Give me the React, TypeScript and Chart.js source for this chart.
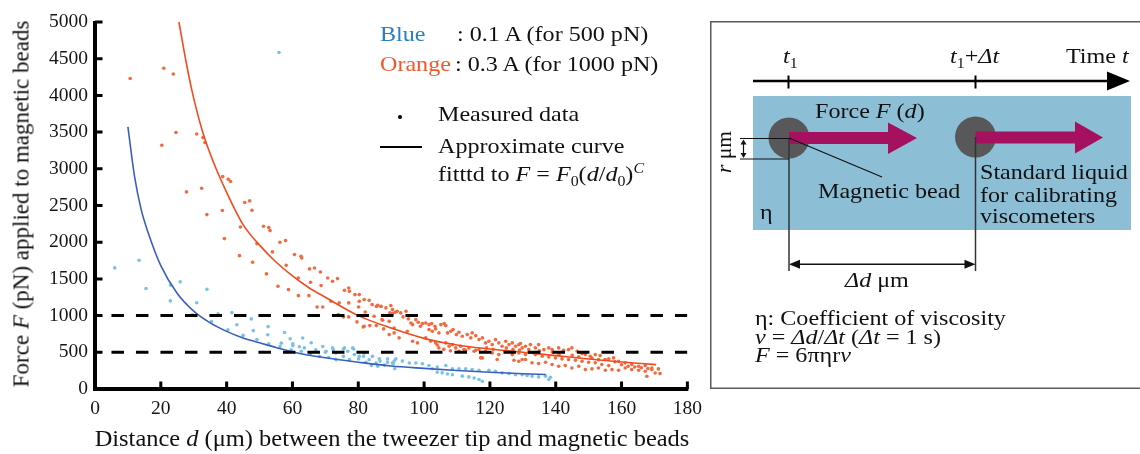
import React, { useEffect, useRef } from "react";
import { Chart, registerables } from "chart.js";

Chart.register(...registerables);

// ---------- data ----------
const xTicks = [0, 20, 40, 60, 80, 100, 120, 140, 160, 180];
const yTicks = [0, 500, 1000, 1500, 2000, 2500, 3000, 3500, 4000, 4500, 5000];
const thresholdLevels = [1000, 500];
const thresholdRange = [5, 180];

const blueCurveD = [10, 12, 14, 16, 20, 25, 30, 35, 40, 45, 50, 55, 60, 70, 80, 90, 100, 110, 120, 130, 137];
const blueCurveF = [3570, 2900, 2450, 2150, 1680, 1300, 1060, 900, 785, 695, 630, 565, 505, 425, 365, 313, 281, 253, 228, 208, 197];

const orangeCurveD = [25.5, 28, 30, 33, 36, 40, 45, 50, 55, 60, 65, 70, 80, 90, 100, 110, 120, 130, 140, 150, 160, 170.5];
const orangeCurveF = [5000, 4380, 3960, 3460, 3090, 2680, 2240, 1960, 1730, 1540, 1380, 1250, 1000, 830, 690, 600, 545, 500, 455, 408, 368, 332];

const blueMeasured: [number, number][] = [
  [6, 1650], [13.4, 1755], [15.5, 1370], [23, 1415], [25.9, 1460], [22.9, 1200], [34, 1360], [30.9, 1175],
  [29.6, 1010], [37.4, 1025], [41.6, 1040], [35.4, 920], [43.1, 875], [47.5, 955], [40.4, 805], [45, 730],
  [48.1, 795], [52.6, 850], [52.5, 740], [49.2, 675], [52.8, 615], [57.6, 770], [56.6, 625], [56.2, 580],
  [55.9, 4585],
  [59.3, 685], [60.1, 590], [62.1, 575], [63.6, 560], [65.7, 630], [67.1, 535], [69.2, 580], [70.2, 515],
  [72.2, 560], [73.2, 490], [75.8, 560], [76.8, 515], [78.3, 560], [78.8, 470], [80.3, 445], [81.8, 490],
  [83.3, 400], [84.3, 445], [85.4, 355], [85.9, 310], [63.1, 695],
  [60.1, 615], [59.6, 535], [62.7, 515], [65.5, 485], [68.2, 445], [70, 500], [71, 430], [72.4, 535],
  [73.2, 400], [75.5, 545], [75.5, 445], [77.3, 400], [78.6, 545], [80.1, 410], [81.6, 445], [82.3, 365],
  [84, 320], [86.4, 410], [86.6, 380], [87.9, 325], [88.9, 410], [88.9, 365], [90.9, 380], [90.6, 345], [91.1, 275],
  [90.4, 355], [91.4, 410], [93.4, 380], [95.5, 355], [97.5, 355], [99.5, 345], [101.5, 320], [104, 300],
  [106.6, 320], [108.6, 275], [110.6, 275], [112.6, 275], [114.6, 265], [116.7, 255],
  [102.5, 275], [104, 230], [105.5, 220], [107.1, 205], [108.6, 195], [111.6, 175], [113.6, 165], [115.2, 150],
  [116.7, 130], [117.7, 105],
  [119.7, 255], [121.7, 240], [123.7, 220], [125.8, 210], [127.8, 195], [129.8, 195], [131.3, 185], [132.8, 175],
  [134.8, 165], [136.9, 175], [137.9, 130], [138.4, 160],
];

const orangeMeasured: [number, number][] = [
  [10.7, 4230], [20.9, 4370], [23.8, 4290], [24.6, 3495], [20.3, 3320], [30.9, 3475], [32.8, 3425], [33.4, 3357],
  [38.8, 2894], [40.5, 2857], [41.2, 2826], [27.8, 2685], [32.4, 2735], [45.5, 2540], [47, 2563], [47.7, 2435],
  [38.7, 2431], [34, 2376], [44.2, 2208], [51.2, 2217], [52.8, 2199], [53.2, 2158], [39.3, 2049], [49.2, 1981],
  [56.2, 1999], [57.9, 2022], [53.9, 1868], [43.9, 1817], [47.9, 1726], [58.1, 1686], [52.1, 1568], [55.6, 1400],
  [58.8, 1354],
  [60.6, 1831], [62.6, 1808], [62.8, 1786], [61.8, 1513], [61.8, 1272], [65.2, 1636], [66.7, 1649], [65.5, 1454],
  [65, 1272], [68.5, 1595], [68.7, 1409], [67.5, 1118], [70.7, 1513], [72.2, 1468], [73.7, 1504], [71.7, 1195],
  [69.2, 1118], [74.2, 1173], [75.8, 1345], [77.1, 1377], [77.3, 1331], [79, 1286], [80.3, 1286], [77.1, 1173],
  [80.1, 1118], [73.9, 1014], [75.5, 982], [77.1, 982], [80.3, 1195], [81.8, 1218], [83.3, 1208], [84.2, 1150],
  [85.9, 1141], [82.1, 1050], [81.8, 854], [83.5, 864], [84.8, 991],
  [85.5, 1123], [86.9, 1123], [88.4, 1105], [89.6, 1037], [90.4, 1027], [91.2, 1045], [91.8, 1059], [79.6, 914],
  [81.5, 846], [85.5, 864], [87.4, 936], [89.4, 922], [87.7, 819], [89.4, 741], [90.9, 764], [90.9, 832],
  [86.9, 1127], [89.9, 1136], [90.4, 1082], [87.2, 946],
  [92.9, 1037], [93.6, 982], [94.5, 1059], [95.2, 955], [96, 900], [96.5, 877], [97.5, 945], [98.2, 909], [98.9, 854],
  [94.9, 786], [92.4, 696], [96.5, 650], [98, 628],
  [99.5, 891], [100.5, 900], [101.5, 877], [102.3, 891], [103.3, 854],
  [101.5, 809], [102.5, 786], [103.5, 819], [104.5, 764],
  [105.1, 877], [106.1, 891], [106.6, 864],
  [100.5, 696], [102, 650], [103.5, 628], [104.5, 560], [104, 600], [106, 540], [108, 520],
  [107.1, 764], [108.1, 786], [108.8, 809], [109.8, 741], [110.6, 773], [111.6, 718], [113.1, 741], [114.2, 696],
  [114.6, 764], [115.7, 727], [116.7, 673], [117.7, 696],
  [106.6, 628], [107.6, 582], [108.6, 605], [109.6, 560], [111.1, 582], [112.1, 537], [113.6, 560], [115.2, 514], [116.7, 537],
  [110.6, 514], [112.6, 527], [115.7, 527], [117.2, 424],
  [118.7, 628], [119.7, 650], [120.7, 605], [121.7, 673], [122.7, 628], [123.7, 582], [124.8, 650], [125.8, 605],
  [126.8, 628], [127.8, 582], [128.8, 605], [129.8, 560], [130.8, 582], [131.8, 537],
  [118.7, 514], [120.7, 492], [122.7, 469], [124.8, 514], [126.8, 469], [128.8, 492], [130.8, 469],
  [119, 560], [121, 540], [125, 560], [127, 540], [129, 530],
  [117.7, 424], [122.2, 401], [127.3, 391], [129.8, 401],
  [129.3, 619], [132.3, 605], [133.8, 560], [134.8, 605], [136.4, 537], [137.9, 560], [138.9, 537], [140.9, 560],
  [142.4, 527], [143.9, 537], [144.9, 560], [146.5, 514], [148, 482], [149, 469], [150.5, 446], [152, 469],
  [153.5, 455], [155, 401], [156.1, 410], [157.6, 424],
  [131.8, 500], [133.8, 469], [135.9, 446], [137.9, 437], [139.9, 424], [141.9, 410], [143.9, 401], [146, 391],
  [148, 378], [150, 364], [152, 356], [154, 333], [156.1, 319],
  [135, 520], [139, 500], [141, 470], [145, 460], [147, 440], [151, 420], [153, 400], [158, 370],
  [160, 330], [162, 310], [164, 300], [166, 290], [168, 280],
  [128.8, 378], [130.8, 401], [132.8, 356], [134.8, 346], [136.9, 364], [138.9, 333], [140.9, 309], [142.9, 319],
  [144.9, 287], [147, 309], [149, 264], [151, 274], [153, 287], [155.1, 255], [157.1, 264], [159.1, 255],
  [161.1, 287], [163.1, 264], [165.2, 255], [167.2, 241], [169.2, 264], [170.2, 219], [171.7, 210], [167.7, 173],
  [159.1, 378], [161.1, 356], [163.1, 333], [165.2, 309], [167.2, 319], [169.2, 287], [171.2, 274],
];

// ---------- styling ----------
const SERIF = "'Liberation Serif','Times New Roman',serif";
const BLUE_DOT = "#78c2e6";
const ORANGE_DOT = "#f26a3e";
const BLUE_LINE = "#3a5fbf";
const ORANGE_LINE = "#f24b1f";
const BLUE_TEXT = "#2a7fc4";
const ORANGE_TEXT = "#ef5a28";

type TProps = { x: number; base: number; size?: number; sx?: number; color?: string; children: React.ReactNode };
function T({ x, base, size = 21.5, sx = 1.12, color = "#111", children }: TProps) {
  return (
    <div
      style={{
        position: "absolute",
        left: x,
        top: base - 0.8375 * size,
        fontSize: size,
        lineHeight: `${size}px`,
        fontFamily: SERIF,
        whiteSpace: "nowrap",
        color,
        transform: `scaleX(${sx})`,
        transformOrigin: "left top",
      }}
    >
      {children}
    </div>
  );
}
const Sub = ({ children }: { children: React.ReactNode }) => (
  <span style={{ fontSize: "0.66em", position: "relative", top: "0.36em", lineHeight: 0, fontStyle: "normal" }}>{children}</span>
);
const Sup = ({ children }: { children: React.ReactNode }) => (
  <span style={{ fontSize: "0.66em", position: "relative", top: "-0.55em", lineHeight: 0 }}>{children}</span>
);
const I = ({ children }: { children: React.ReactNode }) => <i>{children}</i>;

export default function App() {
  const ref = useRef<HTMLCanvasElement | null>(null);

  useEffect(() => {
    if (!ref.current) return;
    const axesAndTicks = {
      id: "axesAndTicks",
      afterDraw(chart: any) {
        const { ctx, chartArea, scales } = chart;
        const xs = scales.x;
        const ys = scales.y;
        const { left, right, top, bottom } = chartArea;
        ctx.save();
        ctx.strokeStyle = "#000";
        // axis lines
        ctx.lineWidth = 4;
        ctx.beginPath();
        ctx.moveTo(left, top - 1);
        ctx.lineTo(left, bottom + 2);
        ctx.moveTo(left - 2, bottom);
        ctx.lineTo(right + 1, bottom);
        ctx.stroke();
        // inward tick marks
        ctx.lineWidth = 3;
        ctx.beginPath();
        for (const t of xs.ticks) {
          const px = xs.getPixelForValue(t.value);
          ctx.moveTo(px, bottom);
          ctx.lineTo(px, bottom - 7.5);
        }
        for (const t of ys.ticks) {
          const py = ys.getPixelForValue(t.value);
          ctx.moveTo(left, py);
          ctx.lineTo(left + 7.5, py);
        }
        ctx.stroke();
        ctx.restore();
      },
    };

    const tickFont = { family: SERIF, size: 19.5 };
    const chart = new Chart(ref.current, {
      type: "scatter",
      data: {
        datasets: [
          ...thresholdLevels.map((lv) => ({
            type: "line" as const,
            label: `${lv} pN`,
            data: thresholdRange.map((d) => ({ x: d, y: lv })),
            borderColor: "#000",
            borderWidth: 3,
            borderDash: [12.5, 12],
            pointRadius: 0,
            order: 0,
          })),
          {
            type: "line" as const,
            label: "Blue fit",
            data: blueCurveD.map((d, i) => ({ x: d, y: blueCurveF[i] })),
            borderColor: BLUE_LINE,
            borderWidth: 1.6,
            pointRadius: 0,
            cubicInterpolationMode: "monotone" as const,
            order: 1,
          },
          {
            type: "line" as const,
            label: "Orange fit",
            data: orangeCurveD.map((d, i) => ({ x: d, y: orangeCurveF[i] })),
            borderColor: ORANGE_LINE,
            borderWidth: 1.6,
            pointRadius: 0,
            cubicInterpolationMode: "monotone" as const,
            order: 1,
          },
          {
            label: "Orange measured",
            data: orangeMeasured.map(([x, y]) => ({ x, y })),
            backgroundColor: ORANGE_DOT,
            borderWidth: 0,
            pointRadius: 1.8,
            order: 2,
          },
          {
            label: "Blue measured",
            data: blueMeasured.map(([x, y]) => ({ x, y })),
            backgroundColor: BLUE_DOT,
            borderWidth: 0,
            pointRadius: 1.8,
            order: 3,
          },
        ],
      },
      options: {
        animation: false,
        responsive: false,
        events: [],
        layout: { padding: { left: 0, top: 22, right: 21, bottom: 0 } },
        plugins: { legend: { display: false }, tooltip: { enabled: false } },
        scales: {
          x: {
            type: "linear",
            min: 0,
            max: 180,
            afterBuildTicks: (s: any) => {
              s.ticks = xTicks.map((v) => ({ value: v }));
            },
            afterFit: (s: any) => {
              s.height = 65;
            },
            grid: { display: false, drawTicks: false },
            border: { display: false },
            ticks: { font: tickFont, color: "#151515", padding: 8, maxRotation: 0, autoSkip: false, callback: (v: any) => String(v) },
          },
          y: {
            type: "linear",
            min: 0,
            max: 5000,
            afterBuildTicks: (s: any) => {
              s.ticks = yTicks.map((v) => ({ value: v }));
            },
            afterFit: (s: any) => {
              s.width = 95;
            },
            grid: { display: false, drawTicks: false },
            border: { display: false },
            ticks: { font: tickFont, color: "#151515", padding: 7, autoSkip: false, callback: (v: any) => String(v) },
          },
        },
      },
      plugins: [axesAndTicks],
    } as any);
    return () => chart.destroy();
  }, []);

  const MAG = "#a5105f";
  return (
    <div style={{ position: "fixed", left: 0, top: 0, width: 1140, height: 454, background: "#fff", overflow: "hidden" }}>
      <canvas ref={ref} width={710} height={454} style={{ position: "absolute", left: 0, top: 0 }} />

      {/* axis titles */}
      <div
        style={{
          position: "absolute",
          left: 392,
          top: 446.5 - 0.8375 * 23.5,
          fontSize: 23.5,
          lineHeight: "23.5px",
          fontFamily: SERIF,
          whiteSpace: "nowrap",
          color: "#111",
          transform: "translateX(-50%) scaleX(1.04)",
        }}
      >
        Distance <I>d</I> (μm) between the tweezer tip and magnetic beads
      </div>
      <div
        style={{
          position: "absolute",
          left: 20.5,
          top: 204,
          fontSize: 23,
          lineHeight: "23px",
          fontFamily: SERIF,
          whiteSpace: "nowrap",
          color: "#111",
          transform: "translate(-50%,-50%) rotate(-90deg)",
        }}
      >
        Force <I>F</I> (pN) applied to magnetic beads
      </div>

      {/* legend */}
      <T x={380} base={41.7} color={BLUE_TEXT}>Blue</T>
      <T x={457} base={41.7}>: 0.1 A (for 500 pN)</T>
      <T x={380} base={71.7} color={ORANGE_TEXT}>Orange</T>
      <T x={455} base={71.7}>: 0.3 A (for 1000 pN)</T>
      <div style={{ position: "absolute", left: 398, top: 115, width: 4, height: 4, borderRadius: 2, background: "#000" }} />
      <div style={{ position: "absolute", left: 380, top: 146, width: 42, height: 2, background: "#000" }} />
      <T x={438} base={121.7}>Measured data</T>
      <T x={438} base={154}>Approximate curve</T>
      <T x={438} base={181.7}>
        fitttd to <I>F</I> = <I>F</I>
        <Sub>0</Sub>(<I>d</I>/<I>d</I>
        <Sub>0</Sub>)<Sup><I>C</I></Sup>
      </T>

      {/* diagram */}
      <svg width={1140} height={454} style={{ position: "absolute", left: 0, top: 0 }}>
        <rect x={710.75} y={21.75} width={440} height={366.5} fill="none" stroke="#5a5a5a" strokeWidth={1.5} />
        <line x1={753} y1={81} x2={1112} y2={81} stroke="#000" strokeWidth={2.5} />
        <polygon points="1107,71.5 1130,81 1107,90.5" fill="#000" />
        <line x1={788.5} y1={75.5} x2={788.5} y2={88.5} stroke="#000" strokeWidth={2} />
        <line x1={975.5} y1={75.5} x2={975.5} y2={88.5} stroke="#000" strokeWidth={2} />
        <rect x={753} y={96} width={378} height={134} fill="#8cbfd6" />
        <circle cx={789} cy={138} r={20.5} fill="#58585a" />
        <circle cx={975.5} cy={137} r={20.5} fill="#58585a" />
        <rect x={789} y={132} width={100} height={12} fill={MAG} />
        <polygon points="888,122.5 917,138 888,154" fill={MAG} />
        <rect x={975.5} y={131.5} width={100} height={12} fill={MAG} />
        <polygon points="1075,121.5 1103,137.5 1075,153.5" fill={MAG} />
        <line x1={789} y1={138} x2={789} y2={271} stroke="#333" strokeWidth={1.5} />
        <line x1={975.5} y1={137} x2={975.5} y2={271} stroke="#333" strokeWidth={1.5} />
        <line x1={740} y1={138.5} x2={789} y2={138.5} stroke="#111" strokeWidth={1.2} />
        <line x1={740} y1={159} x2={789} y2={159} stroke="#111" strokeWidth={1.2} />
        <line x1={743.5} y1={143} x2={743.5} y2={154.5} stroke="#111" strokeWidth={1.2} />
        <polygon points="740.5,144.5 743.5,139.5 746.5,144.5" fill="#111" />
        <polygon points="740.5,153 743.5,158 746.5,153" fill="#111" />
        <line x1={789} y1={138} x2={882} y2={177} stroke="#111" strokeWidth={1.2} />
        <line x1={797} y1={264.3} x2={967} y2={264.3} stroke="#111" strokeWidth={1.5} />
        <polygon points="789,264.3 800,259.8 800,268.8" fill="#111" />
        <polygon points="975.5,264.3 964.5,259.8 964.5,268.8" fill="#111" />
      </svg>

      <T x={783} base={64}>
        <I>t</I>
        <Sub>1</Sub>
      </T>
      <T x={950} base={64}>
        <I>t</I>
        <Sub>1</Sub>+<I>Δt</I>
      </T>
      <T x={1066} base={64}>
        Time <I>t</I>
      </T>
      <T x={815} base={119}>
        Force <I>F</I> (<I>d</I>)
      </T>
      <T x={818} base={199.3}>Magnetic bead</T>
      <T x={980} base={180}>Standard liquid</T>
      <T x={980} base={202.7}>for calibrating</T>
      <T x={980} base={224}>viscometers</T>
      <T x={760} base={220}>η</T>
      <div
        style={{
          position: "absolute",
          left: 725,
          top: 152,
          fontSize: 21.5,
          lineHeight: "21.5px",
          fontFamily: SERIF,
          whiteSpace: "nowrap",
          color: "#111",
          transform: "translate(-50%,-50%) rotate(-90deg)",
        }}
      >
        <I>r</I> μm
      </div>
      <T x={845} base={288}>
        <I>Δd</I> μm
      </T>
      <T x={755} base={326}>η: Coefficient of viscosity</T>
      <T x={755} base={345}>
        <I>v</I> = <I>Δd</I>/<I>Δt</I> (<I>Δt</I> = 1 s)
      </T>
      <T x={755} base={363.3}>
        <I>F</I> = 6πηr<I>v</I>
      </T>
    </div>
  );
}
